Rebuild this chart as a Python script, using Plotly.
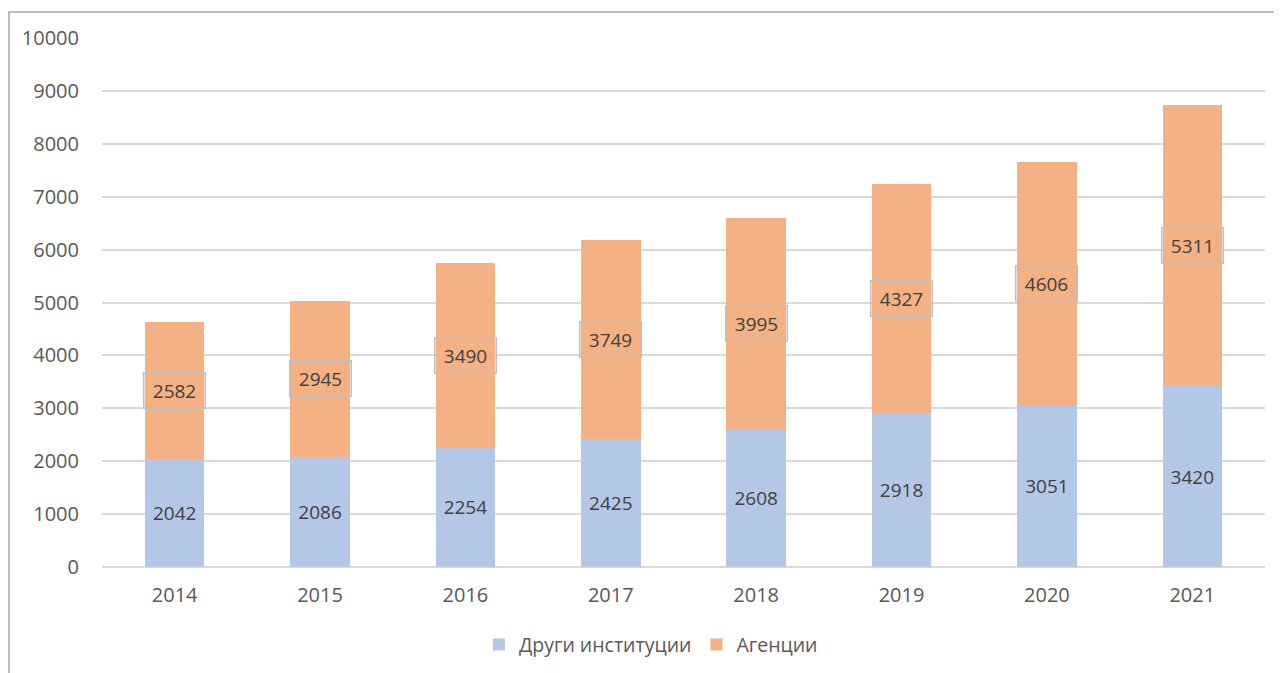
import plotly.graph_objects as go

years = ["2014", "2015", "2016", "2017", "2018", "2019", "2020", "2021"]
drugi = [2042, 2086, 2254, 2425, 2608, 2918, 3051, 3420]
agencii = [2582, 2945, 3490, 3749, 3995, 4327, 4606, 5311]

BLUE = "#B4C7E7"
ORANGE = "#F4B183"
TEXT = "#595959"
LABEL = "#404040"
FONT = "Open Sans"

# the page adds an 8px body margin, so the figure is sized to fit the window
OFF = 8
W, H = 1282 - OFF, 673 - OFF
# plot area edges in window pixels: left 102, top 38, right 1265, bottom 567
L, T = 102 - OFF, 38 - OFF
R, B = 1282 - 1265, 673 - 567

fig = go.Figure()
fig.add_trace(
    go.Bar(
        x=years,
        y=drugi,
        name="Други институции",
        marker=dict(color=BLUE, line=dict(width=0)),
        text=[str(v) for v in drugi],
        textposition="inside",
        insidetextanchor="middle",
        textangle=0,
        textfont=dict(family=FONT, size=19, color=LABEL),
    )
)
fig.add_trace(
    go.Bar(
        x=years,
        y=agencii,
        name="Агенции",
        marker=dict(color=ORANGE, line=dict(width=0)),
    )
)

# boxed labels in the middle of the orange segments
# (category index as x, so the numeric-looking year strings are not misread)
for i, (b, v) in enumerate(zip(drugi, agencii)):
    fig.add_annotation(
        x=i,
        y=b + v / 2,
        text=str(v),
        showarrow=False,
        font=dict(family=FONT, size=19, color=LABEL),
        bordercolor="#BFBFBF",
        borderwidth=1.5,
        borderpad=3,
        width=54,
        height=28,
    )

# outer chart frame (partly cut off on the right and bottom)
pw = W - L - R
ph = H - T - B
fig.add_shape(
    type="rect",
    xref="paper",
    yref="paper",
    x0=(1 - L) / pw,
    x1=(W + 20 - L) / pw,
    y0=-(B + 20) / ph,
    y1=1 + (T - 4) / ph,
    line=dict(color="#A6A6A6", width=1.5),
    fillcolor="rgba(0,0,0,0)",
    layer="below",
)

fig.update_layout(
    width=W,
    height=H,
    barmode="stack",
    bargap=0.59,
    plot_bgcolor="white",
    paper_bgcolor="white",
    margin=dict(l=L, r=R, t=T, b=B, autoexpand=False),
    font=dict(family=FONT, size=19, color=TEXT),
    showlegend=True,
    legend=dict(
        orientation="h",
        x=0.472,
        xanchor="center",
        y=-0.147,
        yanchor="middle",
        font=dict(family=FONT, size=19.5, color=TEXT),
        itemwidth=30,
        traceorder="normal",
    ),
    xaxis=dict(
        type="category",
        range=[-0.5, len(years) - 0.5],
        showgrid=False,
        showline=False,
        ticks="",
        tickfont=dict(family=FONT, size=20, color=TEXT),
        ticklabelstandoff=14,
    ),
    yaxis=dict(
        range=[0, 10000],
        dtick=1000,
        tickformat="d",
        showgrid=True,
        gridcolor="#D9D9D9",
        gridwidth=1.5,
        zeroline=True,
        zerolinecolor="#D9D9D9",
        zerolinewidth=1.5,
        showline=False,
        ticks="",
        tickfont=dict(family=FONT, size=20, color=TEXT),
        ticklabelstandoff=22,
    ),
)

fig.write_html("out.html")
